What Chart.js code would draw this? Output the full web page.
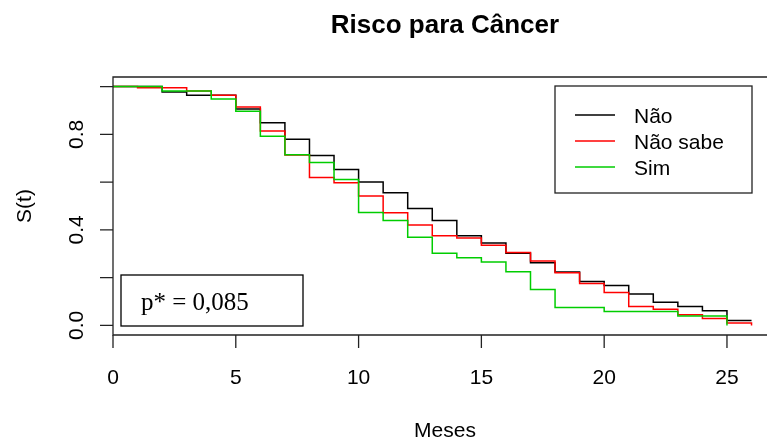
<!DOCTYPE html>
<html>
<head>
<meta charset="utf-8">
<title>Risco para Câncer</title>
<script src="https://cdn.jsdelivr.net/npm/chart.js@4.4.1/dist/chart.umd.min.js"></script>
<style>
  body { margin: 0; background: #fff; }
  #wrap { width: 767px; height: 445px; }
</style>
</head>
<body>
<div id="wrap"><canvas id="survChart" width="767" height="445"></canvas></div>
<script>
// tempo em meses e S(t) de cada grupo (Kaplan-Meier)
const months = [0, 1, 2, 3, 4, 5, 6, 7, 8, 9, 10, 11, 12, 13, 14, 15, 16, 17, 18, 19, 20, 21, 22, 23, 24, 25, 26];
const naoValues = [1.0, 1.0, 0.977, 0.964, 0.964, 0.906, 0.849, 0.779, 0.711, 0.653, 0.600, 0.555, 0.490, 0.439,
    0.375, 0.345, 0.302, 0.262, 0.224, 0.184, 0.167, 0.132, 0.097, 0.079, 0.061, 0.021, 0.021];
const naoSabeValues = [1.0, 0.995, 0.995, 0.981, 0.964, 0.914, 0.814, 0.713, 0.619, 0.597, 0.542, 0.472, 0.420, 0.375,
    0.366, 0.336, 0.305, 0.270, 0.221, 0.176, 0.138, 0.079, 0.068, 0.045, 0.029, 0.010, 0.0];
const simValues = [1.0, 1.0, 0.981, 0.981, 0.948, 0.897, 0.792, 0.715, 0.682, 0.611, 0.473, 0.439, 0.369, 0.302,
    0.283, 0.266, 0.225, 0.150, 0.075, 0.075, 0.058, 0.058, 0.058, 0.040, 0.040, 0.0];

const seriesNames = ['Não', 'Não sabe', 'Sim'];
const seriesColors = ['#000000', '#ff0000', '#00cd00'];
const xTicks = [0, 5, 10, 15, 20, 25];
const yTicks = [0, 0.2, 0.4, 0.6, 0.8, 1.0];
const yTickLabels = ['0.0', '', '0.4', '', '0.8', ''];
const pValueText = 'p* = 0,085';

function toPoints(values) {
    return values.map((v, i) => ({ x: months[i], y: v }));
}

const SANS = '"Liberation Sans", Arial, sans-serif';
const SERIF = '"Liberation Serif", "Times New Roman", serif';

// eixos, moldura, legenda e caixa do p-valor no estilo do R base
const rStylePlot = {
    id: 'rStylePlot',
    afterDraw(chart) {
        const ctx = chart.ctx;
        const area = chart.chartArea;
        const xs = chart.scales.x;
        const ys = chart.scales.y;
        ctx.save();
        ctx.strokeStyle = '#222';
        ctx.lineWidth = 1.3;
        ctx.fillStyle = '#000';

        // moldura (o lado direito fica fora da imagem)
        ctx.beginPath();
        ctx.moveTo(chart.width + 2, area.top);
        ctx.lineTo(area.left, area.top);
        ctx.lineTo(area.left, area.bottom);
        ctx.lineTo(chart.width + 2, area.bottom);
        ctx.stroke();

        // eixo x
        ctx.font = '21px ' + SANS;
        ctx.textAlign = 'center';
        ctx.textBaseline = 'alphabetic';
        ctx.beginPath();
        xTicks.forEach(t => {
            const px = xs.getPixelForValue(t);
            ctx.moveTo(px, area.bottom);
            ctx.lineTo(px, area.bottom + 13);
        });
        ctx.stroke();
        xTicks.forEach(t => {
            ctx.fillText(String(t), xs.getPixelForValue(t), 384);
        });
        ctx.fillText('Meses', (area.left + 777) / 2, 437);

        // eixo y
        ctx.beginPath();
        yTicks.forEach(t => {
            const py = ys.getPixelForValue(t);
            ctx.moveTo(area.left, py);
            ctx.lineTo(area.left - 13, py);
        });
        ctx.stroke();
        yTicks.forEach((t, i) => {
            if (!yTickLabels[i]) return;
            ctx.save();
            ctx.translate(83, ys.getPixelForValue(t));
            ctx.rotate(-Math.PI / 2);
            ctx.fillText(yTickLabels[i], 0, 0);
            ctx.restore();
        });
        ctx.save();
        ctx.translate(31, (area.top + area.bottom) / 2);
        ctx.rotate(-Math.PI / 2);
        ctx.fillText('S(t)', 0, 0);
        ctx.restore();

        // titulo
        ctx.font = 'bold 26px ' + SANS;
        ctx.fillText('Risco para Câncer', 445, 33);

        // legenda
        ctx.strokeRect(555, 86, 197, 107);
        ctx.font = '21px ' + SANS;
        ctx.textAlign = 'left';
        seriesNames.forEach((name, i) => {
            const base = 123 + i * 26;
            ctx.strokeStyle = seriesColors[i];
            ctx.beginPath();
            ctx.moveTo(575, base - 8);
            ctx.lineTo(615, base - 8);
            ctx.stroke();
            ctx.fillText(name, 634, base);
        });

        // caixa do teste
        ctx.strokeStyle = '#000';
        ctx.strokeRect(121, 275, 182, 51);
        ctx.font = '25px ' + SERIF;
        ctx.fillText(pValueText, 141, 310);
        ctx.restore();
    }
};

const datasets = [naoValues, naoSabeValues, simValues].map((vals, i) => ({
    label: seriesNames[i],
    data: toPoints(vals),
    borderColor: seriesColors[i],
    borderWidth: 1.5,
    stepped: true,
    pointRadius: 0,
    fill: false,
    order: 2 - i
}));

new Chart(document.getElementById('survChart'), {
    type: 'line',
    data: { datasets },
    options: {
        responsive: false,
        animation: false,
        layout: { padding: { left: 113, top: 77, right: 0, bottom: 110 } },
        scales: {
            x: { type: 'linear', min: 0, max: 26.63, display: false },
            y: { min: -0.04, max: 1.04, display: false }
        },
        plugins: {
            legend: { display: false },
            tooltip: { enabled: false }
        }
    },
    plugins: [rStylePlot]
});
</script>
</body>
</html>
